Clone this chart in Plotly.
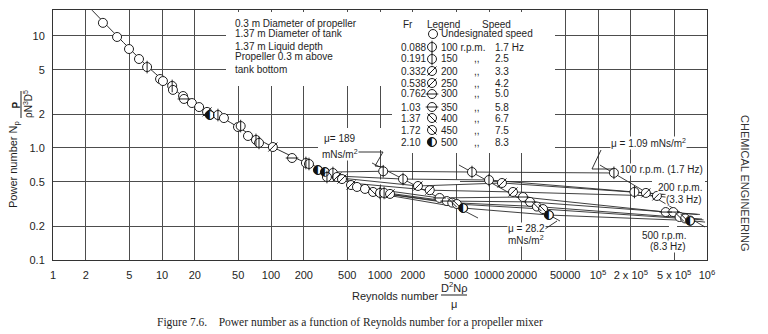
import plotly.graph_objects as go

# ---------------- page / frame geometry (pixels) ----------------
W, H = 768, 334
L, R, T, B = 53, 707, 10, 260          # plotting area edges
X_LOG = (0.0, 6.0)                     # log10 range of Reynolds number
Y_LOG = (-1.0, 1.232)                  # log10 range of power number
FONT = "Liberation Sans, Arial, Helvetica, sans-serif"
SERIF = "Liberation Serif, Times New Roman, serif"
INK = "#1e1e1e"
GRID = "#4d4d4d"

# ---------------- axis ticks ----------------
x_tickvals = [1, 2, 5, 10, 20, 50, 100, 200, 500, 1000, 2000, 5000,
              10000, 20000, 50000, 1e5, 2e5, 5e5, 1e6]
x_ticktext = ["1", "2", "5", "10", "20", "50", "100", "200", "500", "1000",
              "2000", "5000", "10000", "20000", "50000", "10<sup>5</sup>",
              "2 x 10<sup>5</sup>", "5 x 10<sup>5</sup>", "10<sup>6</sup>"]
y_tickvals = [0.1, 0.2, 0.5, 1, 2, 5, 10]
y_ticktext = ["0.1", "0.2", "0.5", "1.0", "2", "5", "10"]

# ---------------- measured points on the common curve ----------------
# symbol codes: o plain, v vertical bar, s slash, h horizontal bar,
#               b backslash, k half black
main_re = [2.87, 3.87, 4.98, 6.15, 7.3, 9.6, 10.2, 12.4, 12.6, 15.6, 15.9,
           18.8, 21.9, 25.9, 27.5, 32.6, 37, 49.8, 52.7, 61.5, 72.8, 77.6,
           104, 156, 209, 223, 270, 313, 370, 326, 403, 448, 542, 615, 728,
           863, 1000, 1090, 1236]
main_np = [13.1, 9.8, 7.65, 6.23, 5.28, 4.13, 3.96, 3.58, 3.3, 2.91, 2.74,
           2.52, 2.32, 2.10, 1.97, 1.97, 1.85, 1.54, 1.57, 1.28, 1.18, 1.11,
           1.02, 0.814, 0.735, 0.72, 0.636, 0.61, 0.598, 0.551, 0.551, 0.528,
           0.467, 0.449, 0.431, 0.405, 0.397, 0.397, 0.389]
main_sym = ["o", "o", "o", "o", "v", "o", "o", "v", "o", "o", "h",
            "o", "o", "s", "k", "v", "o", "o", "v", "o", "v", "v",
            "s", "h", "v", "v", "k", "k", "v", "v", "s", "s",
            "s", "o", "o", "b", "v", "v", "s"]

# common curve drawn through the data
main_line_re = [2.28, 3.87, 7.28, 12.4, 21.9, 37.1, 72.8, 104, 184, 348, 656, 1373]
main_line_np = [17.0, 10.0, 5.4, 3.43, 2.32, 1.82, 1.23, 1.02, 0.78, 0.61, 0.467, 0.373]

# ---------------- constant-viscosity runs, one point per speed ----------------
speeds_rpm = [100, 150, 200, 250, 300, 350, 400, 450, 500]
speed_sym = ["v", "v", "s", "s", "h", "h", "b", "b", "k"]
fr_values = ["0.088", "0.191", "0.332", "0.538", "0.762", "1.03", "1.37", "1.72", "2.10"]
speed_hz = ["1.7 Hz", "2.5", "3.3", "4.2", "5.0", "5.8", "6.7", "7.5", "8.3"]

mu189_re = [1070, 1626, 2230, 2860, 3520, 4100, 4600, 5070, 5800]
mu189_np = [0.62, 0.528, 0.458, 0.42, 0.358, 0.336, 0.325, 0.316, 0.291]
mu28_re = [6980, 10000, 13150, 16600, 20500, 23800, 27500, 31300, 35500]
mu28_np = [0.61, 0.518, 0.487, 0.405, 0.365, 0.33, 0.30, 0.285, 0.252]
mu1_re = [140000, 216000, 275000, 347000, 418000, 490000, 560000, 630000, 700000]
mu1_np = [0.60, 0.405, 0.397, 0.373, 0.268, 0.268, 0.242, 0.235, 0.225]

# constant-speed lines: where they leave the common curve and where they stop
fan_start_re = [348, 386, 430, 530, 650, 840, 1000, 1130, 1290]
fan_start_np = [0.61, 0.563, 0.54, 0.487, 0.449, 0.414, 0.397, 0.389, 0.373]
fan_end_re = [150000, 400000, 420000, 460000, 820000, 860000, 900000, 930000, 960000]
fan_end_np = [0.598, 0.385, 0.385, 0.36, 0.255, 0.255, 0.232, 0.228, 0.218]

# constant-viscosity lines
mu189_line_re, mu189_line_np = [845, 7930], [0.735, 0.237]
mu28_line_re, mu28_line_np = [5300, 44800], [0.705, 0.223]
mu1_line_re, mu1_line_np = [104000, 959000], [0.705, 0.197]


# pixel -> paper and pixel -> data helpers for layout items
def dx(px):
    return (px - L) / (R - L)


def dy(py):
    return (B - py) / (B - T)


def data_x(px):
    return 10 ** (X_LOG[0] + dx(px) * (X_LOG[1] - X_LOG[0]))


def data_y(py):
    return 10 ** (Y_LOG[0] + dy(py) * (Y_LOG[1] - Y_LOG[0]))


fig = go.Figure()

# white areas that keep the grid clear behind text blocks (above grid, below marks)
for x0, x1, y0, y1 in [(226, 555, 12, 86), (392, 555, 86, 153), (318, 392, 128, 150),
                       (349, 460, 179.5, 184.5), (652, 705, 179.5, 184.5),
                       (669, 677, 137, 250)]:
    bx = [data_x(x0), data_x(x1), data_x(x1), data_x(x0), data_x(x0)]
    by = [data_y(y0), data_y(y0), data_y(y1), data_y(y1), data_y(y0)]
    fig.add_trace(go.Scatter(x=bx, y=by, mode="lines", fill="toself",
                             fillcolor="white", line=dict(width=0, color="white"),
                             hoverinfo="skip", showlegend=False))

line_style = dict(color="#2a2a2a", width=0.9)

# curves first, markers on top
fig.add_trace(go.Scatter(x=main_line_re, y=main_line_np, mode="lines",
                         line=dict(color="#2a2a2a", width=1, shape="spline", smoothing=0.6),
                         hoverinfo="skip", showlegend=False))
for i in range(len(speeds_rpm)):
    xs = [fan_start_re[i], mu189_re[i], mu28_re[i], mu1_re[i], fan_end_re[i]]
    ys = [fan_start_np[i], mu189_np[i], mu28_np[i], mu1_np[i], fan_end_np[i]]
    fig.add_trace(go.Scatter(x=xs, y=ys, mode="lines", line=line_style,
                             hoverinfo="skip", showlegend=False))
for lx, ly in [(mu189_line_re, mu189_line_np), (mu28_line_re, mu28_line_np),
               (mu1_line_re, mu1_line_np)]:
    fig.add_trace(go.Scatter(x=lx, y=ly, mode="lines", line=line_style,
                             hoverinfo="skip", showlegend=False))

MARK = 9
INNER = {"v": "line-ns", "s": "line-ne", "h": "line-ew", "b": "line-nw"}


def add_points(xs, ys, syms, xaxis="x", yaxis="y"):
    fig.add_trace(go.Scatter(x=xs, y=ys, mode="markers", xaxis=xaxis, yaxis=yaxis,
                             marker=dict(symbol="circle", size=MARK, color="white",
                                         line=dict(color=INK, width=1)),
                             hoverinfo="skip", showlegend=False))
    for code, symbol in INNER.items():
        px = [x for x, s in zip(xs, syms) if s == code]
        py = [y for y, s in zip(ys, syms) if s == code]
        if px:
            fig.add_trace(go.Scatter(x=px, y=py, mode="markers", xaxis=xaxis, yaxis=yaxis,
                                     marker=dict(symbol=symbol, size=MARK,
                                                 line=dict(color=INK, width=1)),
                                     hoverinfo="skip", showlegend=False))
    px = [x for x, s in zip(xs, syms) if s == "k"]
    py = [y for y, s in zip(ys, syms) if s == "k"]
    if px:
        fig.add_trace(go.Scatter(x=px, y=py, mode="text", text=["\u25d0"] * len(px),
                                 xaxis=xaxis, yaxis=yaxis,
                                 textposition="middle center",
                                 textfont=dict(family="DejaVu Sans", size=12, color="#111"),
                                 hoverinfo="skip", showlegend=False))


add_points(main_re, main_np, main_sym)
add_points(mu189_re, mu189_np, speed_sym)
add_points(mu28_re, mu28_np, speed_sym)
add_points(mu1_re, mu1_np, speed_sym)

# ---------------- key table (pixel-space overlay axes) ----------------
key_x = 432
key_rows_y = [47, 59, 71, 83, 94, 107, 118, 130, 142]
add_points([433], [34], ["o"], "x2", "y2")
add_points([key_x] * len(speeds_rpm), key_rows_y, speed_sym, "x2", "y2")

# leader lines for the viscosity labels
for pts in [[(358, 152), (383, 152), (375, 166), (384, 167)],
            [(601, 150), (592, 169), (613, 169)],
            [(545, 229), (557, 221)]]:
    fig.add_trace(go.Scatter(x=[p[0] for p in pts], y=[p[1] for p in pts],
                             xaxis="x2", yaxis="y2", mode="lines",
                             line=dict(color=INK, width=0.9),
                             hoverinfo="skip", showlegend=False))

shapes = []
ann = []


def text(px, py, s, size=10, anchor="left", angle=0, bg=None, family=FONT, color=INK):
    d = dict(x=dx(px), y=dy(py), xref="paper", yref="paper", text=s, showarrow=False,
             xanchor=anchor, yanchor="middle", textangle=angle,
             font=dict(family=family, size=size, color=color))
    if bg:
        d["bgcolor"] = bg
        d["borderpad"] = 0
    ann.append(d)


# vessel description
for y, s in zip([23, 34, 46, 57, 69],
                ["0.3 m Diameter of propeller", "1.37 m Diameter of tank",
                 "1.37 m Liquid depth", "Propeller 0.3 m above", "tank bottom"]):
    text(233, y, s)

# key table
text(401, 24, "Fr")
text(425, 24, "Legend")
text(480, 24, "Speed")
text(439, 34, "Undesignated speed")
for i, y in enumerate(key_rows_y):
    text(399, y, fr_values[i])
    if i == 0:
        text(439, y, f"{speeds_rpm[i]} r.p.m.")
    else:
        text(439, y, str(speeds_rpm[i]))
        text(472, y, ",,")
    text(493, y, speed_hz[i])

# curve labels
text(340, 138, "\u03bc= 189", anchor="center", bg="white")
text(340, 154, "mNs/m<sup>2</sup>", anchor="center", bg="white")
text(648, 143, "\u03bc = 1.09 mNs/m<sup>2</sup>", anchor="center", bg="white")
text(619, 169, "100 r.p.m. (1.7 Hz)", bg="white")
text(703, 187, "200 r.p.m.", anchor="right", bg="white")
text(703, 199, "(3.3 Hz)", anchor="right", bg="white")
text(664, 235, "500 r.p.m.", anchor="center", bg="white")
text(668, 246, "(8.3 Hz)", anchor="center", bg="white")
text(526, 228, "\u03bc = 28.2", anchor="center", bg="white")
text(526, 240, "mNs/m<sup>2</sup>", anchor="center", bg="white")

# axis titles
text(14, 165, "Power number N<sub>p</sub>", size=11, anchor="center", angle=-90)
text(15.5, 105, "<b>P</b>", size=10, anchor="center", angle=-90)
text(28, 104, "\u03c1N<sup>3</sup>D<sup>5</sup>", size=10, anchor="center", angle=-90)
shapes.append(dict(type="line", xref="paper", yref="paper", x0=dx(21), x1=dx(21),
                   y0=dy(91), y1=dy(118), line=dict(color=INK, width=1)))
text(395, 296, "Reynolds number", size=11, anchor="center")
text(454, 287, "D<sup>2</sup>N\u03c1", size=11, anchor="center")
text(454, 304, "\u03bc", size=11, anchor="center")
shapes.append(dict(type="line", xref="paper", yref="paper", x0=dx(441), x1=dx(467),
                   y0=dy(295), y1=dy(295), line=dict(color=INK, width=1)))

# side running head and caption
text(745, 183, "CHEMICAL ENGINEERING", size=11, anchor="center", angle=90, color="#333")
text(155, 322, "Figure 7.6.\u00a0\u00a0\u00a0 Power number as a function of Reynolds number "
     "for a propeller mixer", size=11.5, family=SERIF)

axis_font = dict(family=FONT, size=11, color=INK)
fig.update_layout(
    width=W, height=H,
    margin=dict(l=L, r=W - R, t=T, b=H - B, pad=0),
    paper_bgcolor="white", plot_bgcolor="rgba(0,0,0,0)",
    showlegend=False,
    xaxis=dict(type="log", range=list(X_LOG), tickvals=x_tickvals, ticktext=x_ticktext,
               showgrid=True, gridcolor=GRID, gridwidth=1, ticks="",
               showline=True, mirror=True, linecolor="#333", linewidth=1,
               tickfont=axis_font, ticklabelstandoff=5, zeroline=False),
    yaxis=dict(type="log", range=list(Y_LOG), tickvals=y_tickvals, ticktext=y_ticktext,
               showgrid=True, gridcolor=GRID, gridwidth=1, ticks="",
               showline=True, mirror=True, linecolor="#333", linewidth=1,
               tickfont=axis_font, ticklabelstandoff=5, zeroline=False),
    xaxis2=dict(domain=[0, 1], range=[L, R], visible=False, anchor="y2"),
    yaxis2=dict(domain=[0, 1], range=[B, T], visible=False, anchor="x2"),
    shapes=shapes,
    annotations=ann,
)

fig.write_html("out.html")
